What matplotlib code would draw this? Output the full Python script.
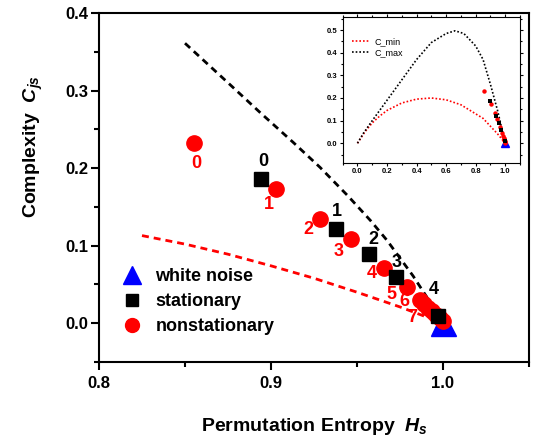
import numpy as np
import matplotlib
matplotlib.use("Agg")
import matplotlib.pyplot as plt
from matplotlib.lines import Line2D
from matplotlib.ticker import MultipleLocator

plt.rcParams['font.family'] = ['Liberation Sans', 'DejaVu Sans']
plt.rcParams['font.weight'] = 'bold'
plt.rcParams['mathtext.fontset'] = 'custom'
plt.rcParams['mathtext.it'] = 'Liberation Sans:italic:bold'
plt.rcParams['mathtext.rm'] = 'Liberation Sans:bold'
plt.rcParams['mathtext.bf'] = 'Liberation Sans:bold'

## white noise
wn_H = [1.0]
wn_C = [0.0]

## stationary series (labels 0..4)
st_H = [0.894, 0.938, 0.957, 0.9727, 0.997]
st_C = [0.186, 0.121, 0.089, 0.059, 0.009]
st_lab = ['0', '1', '2', '3', '4']

## nonstationary series (labels 0..7) and the unlabelled ones near H=1
ns_H = [0.855, 0.903, 0.9285, 0.9465, 0.9657, 0.979, 0.9866, 0.991]
ns_C = [0.232, 0.173, 0.135, 0.108, 0.071, 0.0465, 0.030, 0.019]
ns_lab = ['0', '1', '2', '3', '4', '5', '6', '7']
ns_extra_H = [0.989, 0.9936, 0.996, 0.998, 1.0]
ns_extra_C = [0.0245, 0.0155, 0.010, 0.0065, 0.0026]

## bounds
cmax_H = [0.850, 0.876, 0.894, 0.913, 0.9285, 0.9448, 0.958, 0.9674, 0.9826, 0.994, 1.0]
cmax_C = [0.361, 0.308, 0.271, 0.233, 0.201, 0.164, 0.132, 0.107, 0.061, 0.022, 0.0]
cmin_H = [0.825, 0.85, 0.875, 0.90, 0.925, 0.95, 0.975, 1.0]
cmin_C = [0.113, 0.102, 0.089, 0.074, 0.058, 0.040, 0.021, 0.0]

## bounds (full range)
in_cmax_H = [0.0, 0.04, 0.1, 0.2, 0.3, 0.4, 0.5, 0.6, 0.66, 0.72, 0.8, 0.85, 0.9, 0.95, 1.0]
in_cmax_C = [0.0, 0.044, 0.10, 0.19, 0.28, 0.37, 0.445, 0.485, 0.497, 0.485, 0.43, 0.37, 0.26, 0.14, 0.0]
in_cmin_H = [0.0, 0.05, 0.1, 0.15, 0.2, 0.3, 0.4, 0.5, 0.6, 0.7, 0.8, 0.85, 0.9, 0.95, 1.0]
in_cmin_C = [0.0, 0.05, 0.09, 0.12, 0.145, 0.178, 0.195, 0.2, 0.192, 0.17, 0.13, 0.11, 0.075, 0.04, 0.0]

# label offsets in pixels (dx, dy), y up
st_off = [(3, 17), (1, 18), (4, 15), (1, 15), (-4, 27)]
ns_off = [(3, -20), (-7, -15), (-12, -11), (-12, -12), (-12, -5), (-15, -7), (-16, -2), (-15, -9)]

fig = plt.figure(figsize=(5.36, 4.4), dpi=100)
ax = fig.add_axes([99/536, 78/440, 430/536, 349/440])

ax.plot(cmax_H, cmax_C, color='black', lw=2, ls=(0, (2.5, 1.8)))
ax.plot(cmin_H, cmin_C, color='red', lw=2, ls=(0, (2.5, 1.8)))

ax.plot(wn_H, wn_C, '^', color='blue', ms=18, zorder=3)
ax.plot(ns_H, ns_C, 'o', color='red', ms=11, zorder=4)
ax.plot(ns_extra_H, ns_extra_C, 'o', color='red', ms=11, zorder=4)
ax.plot(st_H, st_C, 's', color='black', ms=10, zorder=5)

for h, c, t, o in zip(st_H, st_C, st_lab, st_off):
    ax.annotate(t, (h, c), xytext=o, textcoords='offset pixels', ha='center', va='center',
                fontsize=13, fontweight='bold', color='black')
for h, c, t, o in zip(ns_H, ns_C, ns_lab, ns_off):
    ax.annotate(t, (h, c), xytext=o, textcoords='offset pixels', ha='center', va='center',
                fontsize=13, fontweight='bold', color='red')

ax.set_xlim(0.8, 1.05)
ax.set_ylim(-0.05, 0.4)
ax.xaxis.set_major_locator(MultipleLocator(0.1))
ax.xaxis.set_minor_locator(MultipleLocator(0.05))
ax.yaxis.set_major_locator(MultipleLocator(0.1))
ax.yaxis.set_minor_locator(MultipleLocator(0.05))
ax.tick_params(which='major', direction='out', length=6, width=1.5, labelsize=12, pad=2)
ax.tick_params(which='minor', direction='out', length=3.5, width=1.5)
ax.tick_params(axis='x', which='major', pad=4)
for s in ax.spines.values():
    s.set_linewidth(1.5)

ax.set_xlabel(r'Permutation Entropy  $H_s$', fontsize=14, fontweight='bold')
ax.set_ylabel(r'Complexity  $C_{js}$', fontsize=14, fontweight='bold')
ax.xaxis.set_label_coords(0.5, -0.155)
ax.yaxis.set_label_coords(-0.125, 0.616)

handles = [Line2D([], [], ls='none', marker='^', color='blue', ms=13),
           Line2D([], [], ls='none', marker='s', color='black', ms=9),
           Line2D([], [], ls='none', marker='o', color='red', ms=10)]
ax.legend(handles, ['white noise', 'stationary', 'nonstationary'], loc='upper left',
          bbox_to_anchor=(0.026, 0.306), frameon=False, fontsize=13, handlelength=1.0,
          handletextpad=0.8, labelspacing=0.45, borderaxespad=0.3)

## inset
ax2 = fig.add_axes([342.7/536, (440-162.7)/440, 177.3/536, 145.7/440])
ax2.plot(in_cmin_H, in_cmin_C, color='red', lw=1.2, ls=(0, (1, 1.2)), label='C_min')
ax2.plot(in_cmax_H, in_cmax_C, color='black', lw=1.2, ls=(0, (1, 1.2)), label='C_max')
ax2.plot(wn_H, wn_C, '^', color='blue', ms=6)
ax2.plot(ns_H + ns_extra_H, ns_C + ns_extra_C, 'o', color='red', ms=3.2, mew=0)
ax2.plot(st_H, st_C, 's', color='black', ms=3, mew=0)
ax2.set_xlim(-0.1, 1.1)
ax2.set_ylim(-0.086, 0.558)
ax2.xaxis.set_major_locator(MultipleLocator(0.2))
ax2.xaxis.set_minor_locator(MultipleLocator(0.1))
ax2.yaxis.set_major_locator(MultipleLocator(0.1))
ax2.yaxis.set_minor_locator(MultipleLocator(0.05))
ax2.tick_params(which='both', top=True, right=True, direction='out', width=0.8,
                labelsize=5.5, pad=1.5)
ax2.tick_params(which='major', length=2.5)
ax2.tick_params(which='minor', length=1.5)
for s in ax2.spines.values():
    s.set_linewidth(0.8)
ax2.legend(loc='upper left', bbox_to_anchor=(0.02, 0.90), frameon=False,
           handlelength=2.0, handletextpad=0.5, labelspacing=0.2, borderaxespad=0.2,
           prop={'weight': 'normal', 'size': 6.5})

fig.savefig('out.png', dpi=100)
